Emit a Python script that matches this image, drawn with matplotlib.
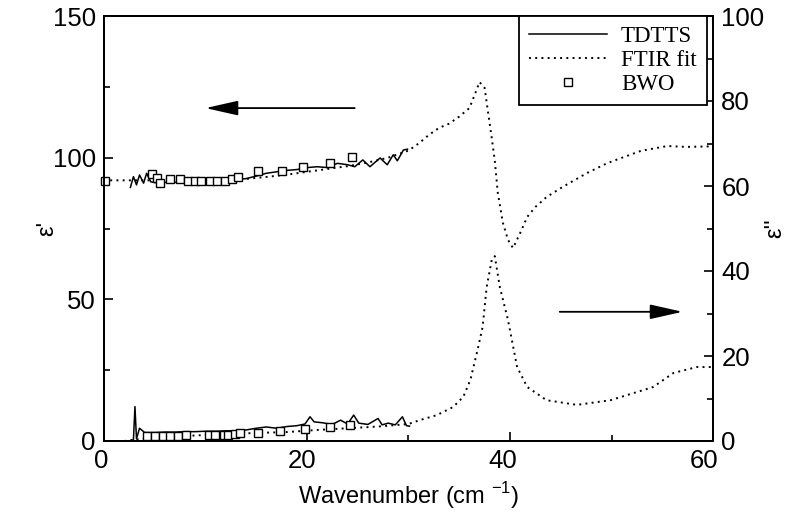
import matplotlib
matplotlib.use("Agg")
import matplotlib.pyplot as plt
from matplotlib.ticker import MultipleLocator
from matplotlib.transforms import ScaledTranslation

# ---------------- data ----------------
# FTIR fit, real part (left axis)
ftir_re_x = [0, 2, 5, 8, 10, 12, 14, 16, 18, 20, 22, 24, 26, 28, 30, 31, 32, 33, 34, 35,
             36, 36.5, 37, 37.5, 37.8, 38.2, 38.5, 38.8, 39.3, 39.8, 40.3, 41.0, 41.7, 42.5,
             43.6, 45.2, 47.6, 49.6, 52.9, 55.5, 57.4, 60]
ftir_re_y = [92, 92, 92, 91.8, 91.8, 92, 92.5, 93.2, 94, 95, 96, 97, 98.3, 100, 102.5, 105, 108, 110.5, 112, 114.5,
             117.5, 122, 126.7, 124.6, 117, 107, 99, 87.5, 77, 71, 68.1, 73.4, 79.1, 82.6,
             86.1, 89.7, 94.6, 98.1, 102.4, 104.1, 103.8, 104]

# FTIR fit, imaginary part (right axis)
ftir_im_x = [2, 4, 6, 8, 10, 12, 15, 18, 21, 24, 27, 30, 31.1, 32.8, 34.4, 35.4, 36.1, 36.8, 37.3,
             37.7, 38.2, 38.5, 39.0, 39.8, 40.7, 41.7, 43.6, 46.6, 49.9, 54.1, 56.1, 58.4, 60]
ftir_im_y = [0, 0.6, 0.9, 1.2, 1.4, 1.6, 1.9, 2.1, 2.6, 3.0, 3.4, 4.0, 4.9, 6.1, 8.0, 10.4, 14.4, 21.4, 26.8,
             36.2, 42.6, 43.5, 36.2, 28.5, 17.4, 12.7, 9.6, 8.5, 9.6, 12.7, 16.0, 17.4, 17.4]

# TDTTS, real part (left axis)
tdtts_re_x = [2.6, 2.9, 3.2, 3.5, 3.9, 4.2, 4.6, 5, 6, 7, 8, 9, 10, 11, 12, 13, 14, 15, 16, 17,
              18, 19, 20, 21, 22, 23, 24, 24.7, 25.5, 26.2, 27.2, 27.9, 28.5, 28.9, 29.5, 29.9]
tdtts_re_y = [89.5, 93.3, 90.4, 93.9, 91, 94.5, 91.5, 91.2, 91.3, 91.3, 91.4, 91.5, 91.6, 91.8, 92, 92.3, 92.6, 93.5, 94.5, 95,
              95.5, 95.8, 96.5, 96.8, 96.5, 98, 97.5, 96.8, 99.2, 96.8, 99.9, 97.5, 101, 98.9, 102.7, 103]

# TDTTS, imaginary part (right axis)
tdtts_im_x = [2.5, 2.9, 3.05, 3.2, 3.5, 4, 5, 6, 7, 8, 9, 10, 11, 12, 13, 14, 15, 16, 17, 18, 19,
              19.8, 20.3, 20.7, 21.5, 22.5, 23.3, 24, 24.6, 25.1, 26, 27, 27.4, 28, 28.7, 29.4, 29.8, 30.1]
tdtts_im_y = [0.0, 0.3, 8.1, 0.5, 3.0, 2.0, 2.0, 2.1, 2.1, 2.2, 2.2, 2.3, 2.3, 2.4, 2.4, 2.6, 3.0, 3.3, 3.0, 3.4, 3.6,
              4.0, 5.7, 4.5, 4.3, 3.9, 4.9, 4.0, 6.1, 4.2, 3.9, 5.3, 3.8, 4.2, 3.8, 5.7, 3.6, 3.5]

# BWO, real part (left axis)
bwo_re_x = [0.1, 4.7, 5.2, 5.5, 6.5, 7.5, 8.3, 9.0, 9.6, 10.4, 11.1, 11.9, 12.6, 13.2, 15.2, 17.5, 19.6, 22.3, 24.4]
bwo_re_y = [91.9, 94.2, 92.7, 90.9, 92.3, 92.3, 91.7, 91.7, 91.7, 91.9, 91.9, 91.9, 92.3, 93.3, 95.2, 95.2, 96.6, 98.1, 100.2]

# BWO, imaginary part (right axis)
bwo_im_x = [4.2, 5.0, 5.8, 6.5, 7.3, 8.1, 10.3, 10.9, 11.8, 12.2, 12.9, 13.4, 15.2, 17.3, 19.8, 22.3, 24.2]
bwo_im_y = [1.2, 1.2, 1.2, 1.2, 1.2, 1.3, 1.4, 1.4, 1.5, 1.5, 1.7, 1.8, 2.0, 2.3, 2.8, 3.4, 3.7]

legend_labels = ["TDTTS", "FTIR fit", "BWO"]

# ---------------- style ----------------
plt.rcParams['font.family'] = ['Liberation Sans', 'DejaVu Sans']
plt.rcParams['mathtext.fontset'] = 'custom'
plt.rcParams['mathtext.rm'] = 'Liberation Sans'

fig = plt.figure(figsize=(7.99, 5.26), dpi=100)
ax1 = fig.add_axes([104 / 799, 1 - 441 / 526, 609 / 799, 425 / 526])
ax2 = ax1.twinx()

dot = (0, (1.0, 2.2))
lw_line = 1.1

ax1.plot(ftir_re_x, ftir_re_y, color='black', lw=1.4, linestyle=dot)
ax1.plot(tdtts_re_x, tdtts_re_y, color='black', lw=lw_line)
ax1.plot(bwo_re_x, bwo_re_y, linestyle='none', marker='s', markersize=5.5,
         markerfacecolor='white', markeredgecolor='black', markeredgewidth=1.0, clip_on=False, zorder=5)

ax2.plot(ftir_im_x, ftir_im_y, color='black', lw=1.4, linestyle=dot)
ax2.plot(tdtts_im_x, tdtts_im_y, color='black', lw=lw_line)
ax2.plot(bwo_im_x, bwo_im_y, linestyle='none', marker='s', markersize=5.5,
         markerfacecolor='white', markeredgecolor='black', markeredgewidth=1.0, zorder=5)

ax1.set_xlim(0, 60)
ax1.set_ylim(0, 150)
ax2.set_ylim(0, 100)

ax1.xaxis.set_major_locator(MultipleLocator(20))
ax1.xaxis.set_minor_locator(MultipleLocator(10))
ax1.yaxis.set_major_locator(MultipleLocator(50))
ax1.yaxis.set_minor_locator(MultipleLocator(25))
ax2.yaxis.set_major_locator(MultipleLocator(20))
ax2.yaxis.set_minor_locator(MultipleLocator(10))

fs_tick = 18.5
fs_lab = 17
for ax in (ax1, ax2):
    for sp in ax.spines.values():
        sp.set_linewidth(1.4)
ax1.tick_params(axis='both', which='major', direction='in', length=6.5, width=1.2, labelsize=fs_tick, pad=6)
ax1.tick_params(axis='both', which='minor', direction='in', length=4.5, width=1.2)
ax1.tick_params(top=False, right=False, which='both')
ax2.tick_params(axis='y', which='major', direction='in', length=6.5, width=1.2, labelsize=fs_tick, pad=6)
ax2.tick_params(axis='y', which='minor', direction='in', length=4.5, width=1.2)

# x tick labels in the reference sit slightly left of their ticks
fig.canvas.draw()
for lab in ax1.get_xticklabels():
    xv = lab.get_position()[0]
    shift_px = -3 - 6 * (xv / 60.0)
    lab.set_transform(lab.get_transform() + ScaledTranslation(shift_px / 100.0, 0, fig.dpi_scale_trans))

ax1.set_xlabel(r'Wavenumber (cm $^{\mathregular{-1}}$)', fontsize=fs_lab, labelpad=5)
ax1.set_ylabel("ε'", fontsize=fs_lab)
ax2.set_ylabel("ε''", fontsize=fs_lab)
ax1.yaxis.set_label_coords((58 - 104) / 609, 0.5)
ax2.yaxis.set_label_coords((764 - 104) / 609, 0.5)

# arrows
astyle = '-|>,head_length=2.0,head_width=0.45'
ax1.annotate('', xy=(10.0, 117.5), xytext=(24.7, 117.5),
             arrowprops=dict(arrowstyle=astyle, color='black',
                             lw=1.3, mutation_scale=10, shrinkA=0, shrinkB=0))
ax2.annotate('', xy=(57.0, 30.4), xytext=(44.9, 30.4),
             arrowprops=dict(arrowstyle=astyle, color='black',
                             lw=1.3, mutation_scale=10, shrinkA=0, shrinkB=0))

# legend
h = ax1.get_lines()
handles = [h[1], h[0], h[2]]
leg = ax2.legend(handles, legend_labels, loc='upper right',
                 bbox_to_anchor=(1 - 6 / 609, 1.0), borderaxespad=0,
                 prop={'family': 'Liberation Serif', 'size': 16.5},
                 handlelength=3.4, handletextpad=0.6, labelspacing=0.12,
                 borderpad=0.45, fancybox=False, framealpha=1, edgecolor='black')
leg.get_frame().set_linewidth(1.3)

fig.savefig('out.png', dpi=100)
